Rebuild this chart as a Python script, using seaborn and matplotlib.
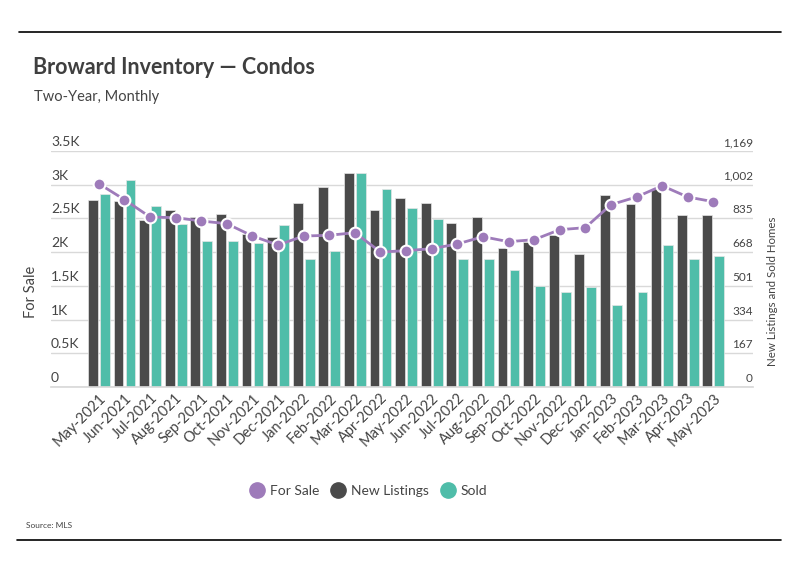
import numpy as np
import pandas as pd
import matplotlib
matplotlib.use("Agg")
import matplotlib.pyplot as plt
import matplotlib.transforms as mtransforms
from matplotlib.lines import Line2D
import seaborn as sns

months = ["May-2021", "Jun-2021", "Jul-2021", "Aug-2021", "Sep-2021", "Oct-2021",
          "Nov-2021", "Dec-2021", "Jan-2022", "Feb-2022", "Mar-2022", "Apr-2022",
          "May-2022", "Jun-2022", "Jul-2022", "Aug-2022", "Sep-2022", "Oct-2022",
          "Nov-2022", "Dec-2022", "Jan-2023", "Feb-2023", "Mar-2023", "Apr-2023",
          "May-2023"]
for_sale = [3015, 2778, 2521, 2511, 2462, 2422, 2239, 2106, 2239, 2250, 2289, 2002,
            2022, 2051, 2121, 2229, 2155, 2185, 2333, 2363, 2704, 2818, 2985, 2818,
            2748]
new_listings = [926, 921, 827, 877, 842, 857, 758, 743, 911, 991, 1060, 877,
                936, 911, 812, 842, 688, 720, 751, 659, 951, 906, 979, 852, 852]
sold = [956, 1025, 896, 807, 723, 723, 713, 802, 634, 674, 1060, 981,
        887, 832, 634, 634, 580, 502, 471, 495, 406, 471, 703, 634, 649]

left_ticks = [0, 500, 1000, 1500, 2000, 2500, 3000, 3500]
left_labels = ["0", "0.5K", "1K", "1.5K", "2K", "2.5K", "3K", "3.5K"]
right_ticks = [0, 167, 334, 501, 668, 835, 1002, 1169]

PURPLE = "#9e7bba"
DARK = "#4a4a4a"
TEAL = "#4fbda9"
TXT = "#444444"

sns.set_theme(style="white")
plt.rcParams["font.family"] = ["Lato", "DejaVu Sans"]

bars = pd.DataFrame({
    "month": months * 2,
    "value": new_listings + sold,
    "series": ["New Listings"] * len(months) + ["Sold"] * len(months),
})

fig = plt.figure(figsize=(7.98, 5.75), dpi=100)
ax = fig.add_axes([51 / 798, 1 - 387 / 575, 702 / 798, 236 / 575])
ax2 = ax.twinx()

# bars on the right-hand scale
sns.barplot(data=bars, x="month", y="value", hue="series", order=months,
            palette=[DARK, TEAL], saturation=1, width=0.94, gap=0.19, ax=ax,
            edgecolor="#e6e6e6", linewidth=0.5, legend=False)
ax.set_xlim(-1.87, 25.55)
ax.set_ylim(0, 1169)
ax.set_yticks(right_ticks)
ax.tick_params(axis="y", length=0, labelleft=False, labelright=False)
ax.grid(axis="y", color="#d9d9d9", linewidth=1)
ax.set_axisbelow(True)
for s in ax.spines.values():
    s.set_visible(False)
ax.spines["bottom"].set_visible(True)
ax.spines["bottom"].set_color("#d9d9d9")
ax.set_xlabel("")
ax.set_ylabel("")
ax.tick_params(axis="x", length=0, pad=3)
ax.set_xticks(range(len(months)))
ax.set_xticklabels(months, rotation=45, ha="right", rotation_mode="anchor",
                   fontsize=10.5, color=TXT)

# for sale line on the left-hand scale
sns.lineplot(x=np.arange(len(months)), y=for_sale, ax=ax2, color=PURPLE,
             linewidth=2, marker="o", markersize=8.5, markerfacecolor=PURPLE,
             markeredgecolor="white", markeredgewidth=1.5)
ax2.set_xlim(-1.87, 25.55)
ax2.set_ylim(0, 3500)
ax2.set_yticks(left_ticks)
ax2.tick_params(axis="y", length=0, labelleft=False, labelright=False)
for s in ax2.spines.values():
    s.set_visible(False)
ax2.grid(False)

# tick labels sit just above their gridlines
lift = mtransforms.ScaledTranslation(0, 3.6 / 72, fig.dpi_scale_trans)
for t, lab in zip(left_ticks, left_labels):
    ax2.text(0, t, lab, transform=ax2.get_yaxis_transform() + lift,
             ha="left", va="baseline", fontsize=10, color=TXT)
for t in right_ticks:
    ax.text(1, t, f"{t:,}", transform=ax.get_yaxis_transform() + lift,
            ha="right", va="baseline", fontsize=8.5, color=TXT)

fig.text(31 / 798, 1 - 292 / 575, "For Sale", rotation=90, fontsize=10.5,
         color=TXT, ha="center", va="center")
fig.text(772 / 798, 1 - 291 / 575, "New Listings and Sold Homes", rotation=90,
         fontsize=8.3, color=TXT, ha="center", va="center")

fig.text(33 / 798, 1 - 68 / 575, "Broward Inventory \u2014 Condos", fontsize=15.5,
         fontweight="bold", color="#3f3f3f", va="center")
fig.text(34 / 798, 1 - 97 / 575, "Two-Year, Monthly", fontsize=10.5, color=TXT, va="center")
fig.text(26 / 798, 1 - 525 / 575, "Source: MLS", fontsize=6, color=TXT, va="center")

handles = [Line2D([], [], linestyle="", marker="o", markersize=11, color=c)
           for c in [PURPLE, DARK, TEAL]]
fig.legend(handles, ["For Sale", "New Listings", "Sold"], loc="center",
           bbox_to_anchor=(368 / 798, 1 - 491 / 575), ncol=3, frameon=False,
           fontsize=10, handlelength=1.2, handletextpad=0.3, columnspacing=0.8,
           labelcolor=TXT)

fig.add_artist(Line2D([19 / 798, 781 / 798], [1 - 32 / 575, 1 - 32 / 575], color="black", linewidth=1.2))
fig.add_artist(Line2D([17 / 798, 781 / 798], [1 - 540 / 575, 1 - 540 / 575], color="black", linewidth=1.2))

fig.savefig("out.png", dpi=100)
